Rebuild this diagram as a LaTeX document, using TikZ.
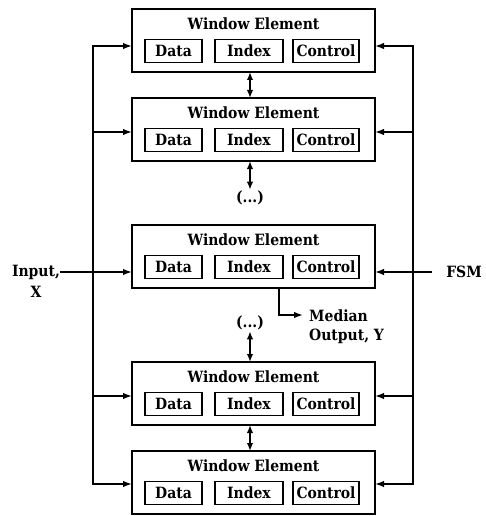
\documentclass[tikz,border=0pt]{standalone}
\usepackage{fontspec}
\setmainfont{DejaVu Serif Condensed}
\usetikzlibrary{arrows.meta}
\begin{document}
\begin{tikzpicture}[x=1pt,y=-1pt,
  outer/.style={draw, line width=1.7pt, minimum width=243pt, minimum height=63pt, inner sep=0pt, outer sep=0pt},
  part/.style={draw, line width=1.6pt, minimum height=23pt, inner sep=0pt, outer sep=0pt, font=\fontsize{15.5}{17}\selectfont\bfseries},
  lbl/.style={font=\fontsize{15.5}{19}\selectfont\bfseries, inner sep=0pt},
  wire/.style={line width=1.6pt},
  arr/.style={wire, -{Latex[length=9pt,width=6.5pt]}},
  darr/.style={wire, {Latex[length=8pt,width=6.5pt]}-{Latex[length=8pt,width=6.5pt]}}
]
\useasboundingbox (0,0) rectangle (485,516);
\foreach \i/\t in {1/9,2/98,3/225,4/362,5/451}{
  \node[outer] (w\i) at (253.5,\t+31.5) {};
  \node[lbl] (t\i) at (253.5,\t+15) {Window Element};
  \node[part, minimum width=57pt] (d\i) at (173.5,\t+42) {Data};
  \node[part, minimum width=68pt] (x\i) at (249,\t+42) {Index};
  \node[part, minimum width=66pt] (c\i) at (326,\t+42) {Control};
}
% buses
\foreach \i/\y in {1/46,2/132,4/396,5/484}{
  \coordinate (L\i) at (93,\y);
  \coordinate (R\i) at (413,\y);
  \draw[arr] (L\i) -- (w\i.west |- L\i);
  \draw[arr] (R\i) -- (w\i.east |- R\i);
}
\draw[wire, line cap=rect] (L1) -- (L5);
\draw[wire, line cap=rect] (R1) -- (R5);
% input and FSM
\node[lbl] (inp) at (36,272) {Input,};
\node[lbl] (inx) at (36,292) {X};
\draw[arr] (inp.east) -- (w3.west |- inp.east);
\node[lbl] (fsm) at (464,272) {FSM};
\draw[arr, shorten <=14pt] (fsm.west) -- (w3.east |- fsm.west);
% ellipses
\node[lbl] (e1) at (250,198) {(...)};
\node[lbl] (e2) at (250,323) {(...)};
\draw[darr] (w1.south -| e1) -- (w2.north -| e1);
\draw[darr, shorten >=1pt] (w2.south -| e1) -- (e1.north);
\draw[darr, shorten <=1pt] (e2.south) -- (w4.north -| e2);
\draw[darr] (w4.south -| e1) -- (w5.north -| e1);
% median output
\coordinate (mo) at (279,315);
\node[lbl, align=left, anchor=west] (med) at (309,327) {Median\\Output, Y};
\draw[arr, shorten >=6pt] (w3.south -| mo) -- (mo) -- (med.west |- mo);
\end{tikzpicture}
\end{document}
